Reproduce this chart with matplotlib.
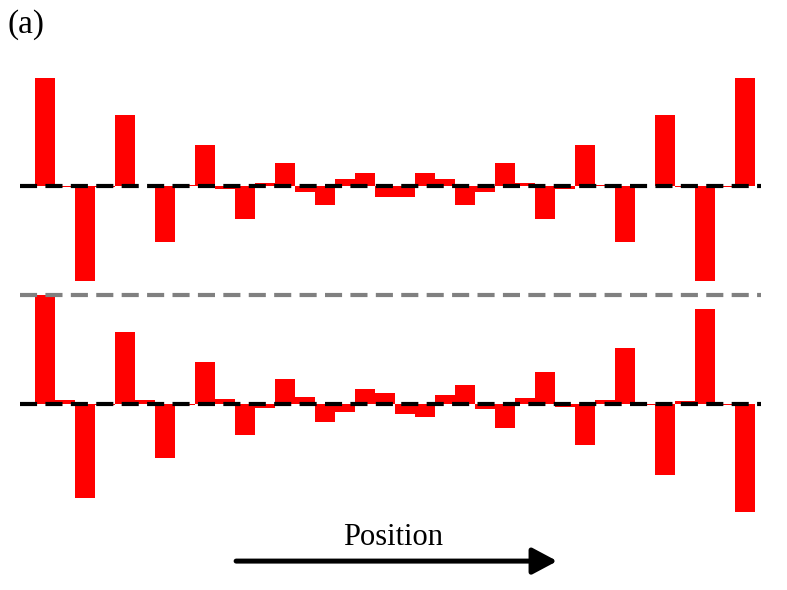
import numpy as np
import matplotlib.pyplot as plt
from matplotlib.patches import FancyArrowPatch

# Значення стовпчиків (довільні одиниці), зліва направо
top_values = [108, -1, -95, -1, 71, 0.5, -56, 1, 41, -3, -33, 3, 23, -6, -19, 7, 13, -11,
              -11, 13, 7, -19, -6, 23, 3, -33, -3, 41, 1, -56, 0.5, 71, -1, -95, -1, 108]
bottom_values = [109, 4, -94, -0.5, 72, 4, -54, -1, 42, 5, -31, -4, 25, 7, -18, -8, 15, 11,
                 -10, -13, 9, 19, -5, -24, 6, 32, -3, -41, 4, 56, -1, -71, 3, 95, -1, -108]

panel_label = '(a)'
axis_label = 'Position'

# Базові лінії двох панелей
top_base = 0
bottom_base = -218
divider = -109

x = np.arange(len(top_values))

fig = plt.figure(figsize=(7.87, 5.90), dpi=100)
ax = fig.add_axes([0, 0, 1, 1])
ax.set_xlim(-2.25, 37.1)
ax.set_ylim(-404, 186)
ax.axis('off')

ax.bar(x, top_values, width=1.0, bottom=top_base, color='#ff0000', linewidth=0)
ax.bar(x, bottom_values, width=1.0, bottom=bottom_base, color='#ff0000', linewidth=0)

dash_style = dict(linewidth=3.0, dashes=(4.1, 2.0), solid_capstyle='butt', dash_capstyle='butt')
ax.plot([-1.25, 35.8], [top_base, top_base], color='black', **dash_style)
ax.plot([-1.25, 35.8], [bottom_base, bottom_base], color='black', **dash_style)
ax.plot([-1.25, 35.8], [divider, divider], color='#808080', **dash_style)

fig.text(0.009, 0.985, panel_label, fontsize=24, family='Liberation Serif', ha='left', va='top')
fig.text(0.499, 0.076, axis_label, fontsize=22, family='Liberation Serif', ha='center', va='baseline')

arrow = FancyArrowPatch((0.300, 0.049), (0.708, 0.049), transform=fig.transFigure,
                        arrowstyle='-|>,head_length=15,head_width=8', mutation_scale=1,
                        shrinkA=0, shrinkB=0, linewidth=3.6, color='black')
fig.add_artist(arrow)

plt.savefig('out.png', dpi=100)
